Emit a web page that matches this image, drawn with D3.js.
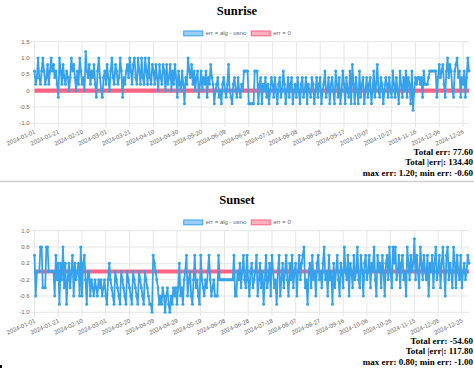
<!DOCTYPE html>
<html>
<head>
<meta charset="utf-8">
<script src="https://cdn.jsdelivr.net/npm/d3@7"></script>
<style>
  html, body { margin: 0; padding: 0; background: #fff; }
  svg { display: block; }
</style>
</head>
<body>
<script>
// dates: every day of 2024; the sunset feed has 2024-03-10 twice
const dayFormat = d3.utcFormat("%Y-%m-%d")
const allDays = d3.utcDay.range(new Date(Date.UTC(2024, 0, 1)), new Date(Date.UTC(2025, 0, 1))).map(dayFormat)
const sunsetRepeatedDay = "2024-03-10"
const sunriseDates = allDays
const sunsetDates = [...allDays.slice(0, allDays.indexOf(sunsetRepeatedDay) + 1), ...allDays.slice(allDays.indexOf(sunsetRepeatedDay))]

const seriesNames = ["err = alg - usno", "err = 0"]

// err (minutes)
const sunriseErr = [
  0.6, 0.2, 0.4, 1.0, 0.4, 0.2, 0.6, 1.0, 0.6, 0.2,
  0.4, 0.8, 0.2, 0.6, 1.0, 0.6, 0.8, 0.4, 0.6, 0.2,
  -0.2, 1.0, 0.6, 0.2, 0.8, 0.4, 0.2, 0.6, 0.4, 0.0,
  0.4, 1.0, 0.6, 0.8, 0.4, 0.0, 0.6, 0.2, 1.0, 0.6,
  0.2, 0.4, 0.0, 1.2, 0.6, 0.4, 0.8, 0.2, 0.6, 0.4,
  0.8, 0.2, -0.2, 0.6, 1.0, 0.4, 0.0, -0.2, 0.4, 0.6,
  0.2, 0.8, 0.4, 0.0, 0.6, 1.0, 0.4, 0.2, 0.8, 0.6,
  0.2, 0.4, 1.0, 0.6, -0.2, 0.4, 0.2, 0.6, 0.8, 0.4,
  1.0, 0.6, 0.2, 0.8, 1.0, 0.4, 0.2, 1.0, 0.6, 0.2,
  1.0, 0.4, 0.2, 1.0, 0.6, 0.2, 1.0, 0.4, 0.2, 0.8,
  0.6, 0.2, 0.8, 0.4, 0.0, 0.8, 0.4, 0.2, 0.8, 0.6,
  0.0, 0.8, 0.2, 0.4, 0.8, 0.0, 0.6, 0.2, 0.8, 0.4,
  -0.2, 0.6, 0.2, 0.0, 0.6, 0.2, -0.4, 0.4, 0.2, 1.0,
  0.6, 0.4, 0.8, 0.2, 0.6, 0.0, 0.4, 0.6, -0.2, 0.2,
  0.6, 0.0, 0.4, 0.2, 0.6, -0.2, 0.4, 0.2, 0.8, 0.4,
  0.2, -0.4, 0.0, 0.2, 0.4, -0.2, 0.0, -0.4, 0.2, 0.4,
  0.0, -0.2, 0.2, 0.8, 0.0, -0.2, -0.4, 0.2, 0.4, 0.0,
  -0.2, 0.4, 0.0, -0.2, 0.2, 0.0, 0.6, 0.6, 0.6, 0.6,
  -0.4, -0.4, -0.4, -0.4, -0.4, 0.6, 0.6, 0.6, -0.4, 0.2,
  0.4, -0.4, 0.2, 0.0, 0.4, -0.2, 0.2, -0.4, 0.0, 0.4,
  0.2, -0.2, 0.4, 0.0, -0.4, 0.2, 0.4, -0.2, 0.0, 0.6,
  0.2, -0.4, 0.0, 0.4, -0.2, 0.2, 0.4, -0.4, 0.0, 0.2,
  -0.2, 0.4, 0.0, -0.4, 0.2, 0.4, -0.2, 0.0, 0.4, -0.4,
  0.2, 0.0, -0.2, 0.4, 0.2, -0.4, 0.0, 0.4, -0.2, 0.2,
  0.4, -0.4, 0.0, 0.2, 0.6, -0.2, 0.0, 0.4, -0.4, 0.2,
  0.4, 0.0, -0.4, 0.6, 0.2, -0.2, 0.4, -0.4, 0.0, 0.6,
  0.2, -0.4, 0.4, 0.0, -0.2, 0.6, -0.4, 0.8, 0.2, -0.4,
  0.4, 0.0, -0.4, 0.6, -0.2, 0.2, 0.4, -0.4, 0.0, 0.4,
  -0.2, 0.2, 0.4, -0.4, 0.0, 0.6, -0.2, 0.2, 0.8, 0.0,
  -0.2, 0.4, 0.2, -0.4, 0.0, 0.4, 0.2, -0.2, 0.4, 0.0,
  -0.2, 0.6, 0.2, -0.2, 0.4, 0.0, -0.4, 0.6, 0.2, -0.2,
  0.4, 0.0, 0.6, -0.2, 0.4, 0.2, -0.4, 0.6, -0.6, 0.0,
  0.4, 0.2, 0.4, 0.4, 0.2, 0.4, -0.2, 0.6, 0.2, 0.2,
  0.2, 0.4, 0.6, 0.6, 0.6, 0.6, 0.6, 0.6, -0.2, 0.4,
  0.8, 0.4, 0.6, 0.8, 0.2, -0.2, 0.6, 1.0, 0.4, 0.8,
  0.6, 0.0, -0.2, 0.6, 0.8, 1.0, 0.4, 0.6, -0.2, 0.4,
  0.2, 0.6, -0.2, 0.4, 1.0, 0.6
]

const sunsetErr = [
  0.4, -0.6, 0.0, 0.0, 0.0, 0.6, 0.6, -0.4, -0.4, -0.4,
  0.6, 0.6, 0.0, 0.0, 0.0, 0.0, 0.0, -0.6, 0.4, -0.2,
  0.2, -0.8, 0.2, -0.2, 0.6, -0.4, 0.2, -0.8, -0.2, 0.2,
  -0.4, 0.0, 0.4, -0.6, 0.2, -0.2, 0.0, 0.2, -0.6, 0.6,
  -0.6, 0.2, 0.4, -0.2, -0.8, 0.0, 0.0, -0.6, -0.2, -0.4,
  -0.6, -0.2, -0.4, -0.6, -0.2, -0.4, -0.2, -0.6, -0.4, -0.2,
  -0.6, -0.8, -0.2, 0.2, -0.2, -0.4, -0.6, -0.8, 0.0, -0.2,
  -0.4, -0.6, -0.8, 0.0, -0.2, -0.4, -0.6, -0.8, 0.0, -0.2,
  -0.4, -0.6, -0.8, 0.0, -0.2, -0.4, -0.6, -0.8, 0.0, -0.2,
  -0.4, -0.6, -0.8, 0.0, -0.2, -0.4, -0.6, -0.8, -0.8, -1.0,
  0.4, 0.2, 0.0, -0.2, -0.4, -0.8, -0.6, -0.8, -0.4, -0.6,
  -1.0, -0.6, -0.4, -0.8, -1.0, -0.6, -0.8, -0.4, -0.6, -0.4,
  -0.8, -0.4, 0.2, -0.6, -0.4, -0.8, -0.2, 0.0, 0.4, -0.6,
  -0.2, 0.0, -0.6, -0.8, -0.2, 0.4, -0.4, -0.2, -0.6, -0.8,
  0.4, -0.2, -0.4, -0.6, -0.2, -0.4, 0.0, 0.4, -0.2, -0.6,
  -0.4, -0.2, -0.6, -0.6, -0.6, 0.4, -0.2, -0.2, -0.2, -0.2,
  -0.2, -0.2, -0.2, -0.2, -0.2, -0.2, -0.2, -0.2, 0.4, -0.6,
  -0.6, 0.0, -0.2, 0.2, -0.4, 0.0, 0.4, -0.2, -0.4, 0.4,
  -0.2, -0.6, 0.0, 0.2, -0.4, -0.2, 0.0, 0.4, -0.6, -0.2,
  0.2, -0.4, 0.0, -0.8, -0.2, 0.4, -0.4, -0.2, 0.2, -0.6,
  0.4, 0.0, -0.4, -0.2, -0.8, 0.0, 0.4, -0.6, -0.2, 0.2,
  -0.4, 0.0, 0.4, -0.2, -0.6, 0.2, -0.2, 0.4, -0.4, 0.0,
  0.2, -0.6, 0.0, 0.4, -0.2, 0.2, 0.4, 0.6, -0.4, -0.2,
  -0.8, 0.0, 0.2, -0.4, 0.4, -0.2, 0.0, -0.6, 0.2, 0.4,
  -0.2, 0.0, -0.4, 0.2, 0.6, -0.2, 0.0, -0.6, 0.4, -0.2,
  0.0, -0.8, 0.2, -0.4, 0.0, 0.4, -0.2, -0.6, 0.2, 0.0,
  -0.4, 0.6, 0.0, -0.2, 0.4, -0.6, 0.2, 0.0, -0.4, 0.4,
  -0.2, 0.0, 0.6, -0.2, -0.4, 0.4, 0.0, -0.6, 0.2, 0.4,
  -0.2, 0.0, 0.4, -0.4, 0.2, 0.0, 0.6, -0.2, -0.6, 0.4,
  0.0, 0.2, -0.4, 0.4, 0.0, -0.6, 0.2, 0.4, -0.2, 0.6,
  0.0, -0.4, 0.6, 0.2, 0.6, -0.2, 0.0, 0.4, -0.4, 0.2,
  0.4, -0.2, 0.0, -0.6, 0.6, 0.2, -0.2, 0.4, 0.0, 0.2,
  0.8, -0.2, 0.4, 0.0, -0.4, 0.6, 0.2, -0.2, 0.4, 0.0,
  -0.2, 0.4, -0.6, 0.2, 0.0, 0.4, -0.4, 0.2, 0.6, -0.2,
  0.0, 0.4, -0.4, 0.2, 0.6, 0.0, -0.6, 0.4, 0.6, -0.2,
  0.2, 0.0, -0.4, 0.6, 0.2, -0.4, 0.4, 0.0, -0.2, 0.4,
  -0.4, 0.0, 0.2, -0.2, 0.0, 0.4, 0.2
]

const sunriseTicks = [-1.0, -0.5, 0, 0.5, 1.0, 1.5]
const sunsetTicks = [-1.0, -0.6, -0.2, 0.2, 0.6, 1.0]

const sunriseStats = ["Total err: 77.60", "Total |err|: 134.40", "max err: 1.20; min err: -0.60"]
const sunsetStats = ["Total err: -54.60", "Total |err|: 117.80", "max err: 0.80; min err: -1.00"]

const width = 474
const height = 370
const blue = "rgb(54, 162, 235)"
const red = "rgb(255, 99, 132)"
const grid = "#e6e6e6"
const sans = "'Liberation Sans', Arial, Helvetica, sans-serif"
const serif = "'Liberation Serif', 'Times New Roman', serif"

const svg = d3.select("body").append("svg")
    .attr("width", width)
    .attr("height", height)

function drawPanel(top, title, dates, values, ticks, stats) {
    const g = svg.append("g").attr("transform", `translate(0, ${top})`)
    const plot = { left: 34.5, right: 469, top: 41.7, bottom: 123.3 }

    g.append("text")
        .attr("x", width / 2)
        .attr("y", 15)
        .attr("text-anchor", "middle")
        .attr("font-family", serif)
        .attr("font-weight", "bold")
        .attr("font-size", 12.5)
        .attr("fill", "#000")
        .text(title)

    // legend, centred
    const legend = g.append("g")
    let lx = 0
    const boxes = [[blue, "rgba(54, 162, 235, 0.5)"], [red, "rgba(255, 99, 132, 0.5)"]]
    seriesNames.forEach((name, i) => {
        legend.append("rect")
            .attr("x", lx + 0.5).attr("y", 31)
            .attr("width", 19).attr("height", 4.8)
            .attr("fill", boxes[i][1])
            .attr("stroke", boxes[i][0])
            .attr("stroke-width", 1)
        const t = legend.append("text")
            .attr("x", lx + 22.5).attr("y", 35.4)
            .attr("font-family", sans).attr("font-size", 6)
            .attr("fill", "#666")
            .text(name)
        lx += 22.5 + t.node().getComputedTextLength() + 4.5
    })
    legend.attr("transform", `translate(${width / 2 - (lx - 4.5) / 2}, 0)`)

    const x = d3.scaleLinear().domain([0, dates.length - 1]).range([plot.left, plot.right])
    const y = d3.scaleLinear().domain([ticks[0], ticks[ticks.length - 1]]).range([plot.bottom, plot.top])

    const xTicks = d3.range(0, dates.length, 20)

    // grid
    g.append("g").selectAll("line.v")
        .data(xTicks)
        .join("line")
        .attr("x1", d => x(d)).attr("x2", d => x(d))
        .attr("y1", plot.top).attr("y2", plot.bottom + 4)
        .attr("stroke", grid).attr("stroke-width", 1)
    g.append("g").selectAll("line.h")
        .data(ticks)
        .join("line")
        .attr("x1", plot.left - 4).attr("x2", plot.right)
        .attr("y1", d => y(d)).attr("y2", d => y(d))
        .attr("stroke", grid).attr("stroke-width", 1)

    g.append("g").selectAll("text")
        .data(ticks)
        .join("text")
        .attr("x", 29.5)
        .attr("y", d => y(d))
        .attr("dy", "0.35em")
        .attr("text-anchor", "end")
        .attr("font-family", sans).attr("font-size", 6)
        .attr("fill", "#666")
        .text(d => d === 0 ? "0" : d.toFixed(1))

    g.append("g").selectAll("text")
        .data(xTicks)
        .join("text")
        .attr("transform", d => `translate(${x(d) + 0.5}, ${plot.bottom + 8}) rotate(-24)`)
        .attr("dy", "0.35em")
        .attr("text-anchor", "end")
        .attr("font-family", sans).attr("font-size", 6)
        .attr("fill", "#666")
        .text(d => dates[d])

    const line = d3.line()
        .x((d, i) => x(i))
        .y(d => y(d))

    // err = 0 reference
    g.append("path")
        .attr("d", line(dates.map(() => 0)))
        .attr("fill", "none")
        .attr("stroke", red)
        .attr("stroke-width", 4.2)

    g.append("path")
        .attr("d", line(values))
        .attr("fill", "none")
        .attr("stroke", blue)
        .attr("stroke-width", 1.8)
        .attr("stroke-linejoin", "miter")

    g.append("g").selectAll("circle")
        .data(values)
        .join("circle")
        .attr("cx", (d, i) => x(i))
        .attr("cy", d => y(d))
        .attr("r", 1.5)
        .attr("fill", blue)

    g.append("g").selectAll("text")
        .data(stats)
        .join("text")
        .attr("x", 473)
        .attr("y", (d, i) => 154.5 + i * 10.5)
        .attr("text-anchor", "end")
        .attr("font-family", serif)
        .attr("font-weight", "bold")
        .attr("font-size", 9)
        .attr("fill", "#000")
        .text(d => d)
}

drawPanel(0, "Sunrise", sunriseDates, sunriseErr, sunriseTicks, sunriseStats)

svg.append("line")
    .attr("x1", 0).attr("x2", width)
    .attr("y1", 181.5).attr("y2", 181.5)
    .attr("stroke", "#cfcfcf").attr("stroke-width", 1.5)

drawPanel(189, "Sunset", sunsetDates, sunsetErr, sunsetTicks, sunsetStats)

svg.append("rect")
    .attr("x", 0).attr("y", 365)
    .attr("width", 2).attr("height", 3)
    .attr("fill", "#000")
</script>
</body>
</html>
